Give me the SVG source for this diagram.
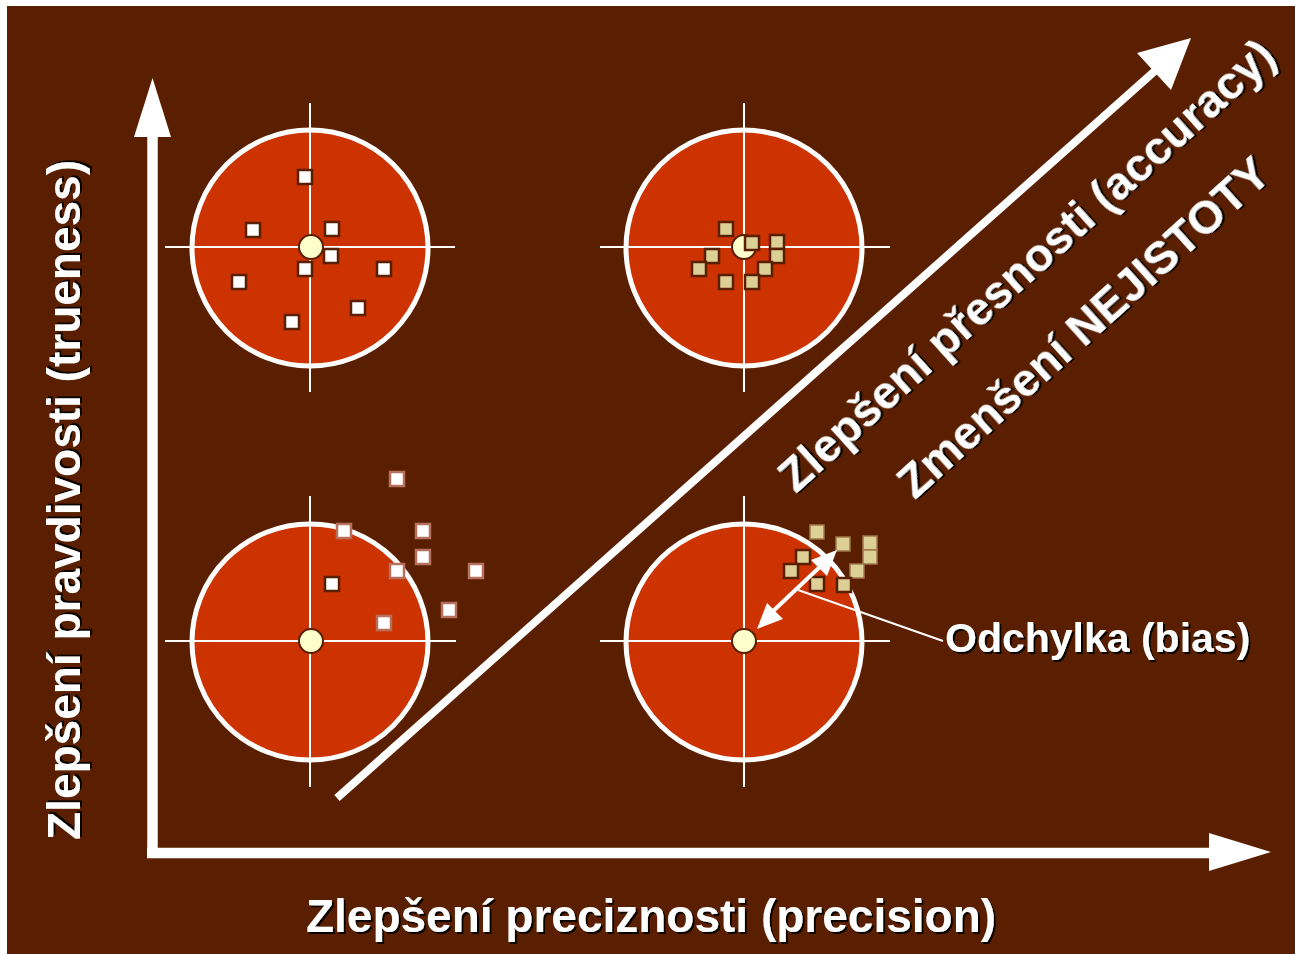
<svg xmlns="http://www.w3.org/2000/svg" width="1295" height="954" viewBox="0 0 1295 954">
  <defs>
    <filter id="sh" x="-5%" y="-5%" width="110%" height="110%">
      <feDropShadow dx="2" dy="2" stdDeviation="0.6" flood-color="#000" flood-opacity="0.9"/>
    </filter>
  </defs>
  <style>
    .ring{fill:#CC3300;stroke:#fff;stroke-width:5}
    .cross{stroke:#fff;stroke-width:2;fill:none}
    .dot{fill:#FFFFCC;stroke:#5A1F00;stroke-width:2}
    .sqw{fill:#fff;stroke:#5A1F00;stroke-width:2.5}
    .sqwl{fill:#fff;stroke:#B8705E;stroke-width:2.5}
    .sqt{fill:#DDD096;stroke:#5A1F00;stroke-width:2.5}
    .sqtl{fill:#DDD096;stroke:#A07A48;stroke-width:1.5}
    .lbl{font-family:"Liberation Sans",Arial,sans-serif;font-weight:bold;fill:#fff;filter:url(#sh)}
    .ax{stroke:#fff;fill:none}
    .head{fill:#fff}
  </style>
  <rect x="0" y="0" width="1295" height="954" fill="#fff"/>
  <rect x="7" y="6" width="1288" height="948" fill="#5A1F00"/>

  <g id="target-tl">
    <circle class="ring" cx="310" cy="248" r="118"/>
    <line class="cross" x1="310" y1="103" x2="310" y2="392"/>
    <line class="cross" x1="165" y1="247" x2="455" y2="247"/>
    <circle class="dot" cx="311" cy="247" r="12"/>
    <g class="sqw">
      <rect x="298" y="170" width="14" height="14"/>
      <rect x="246" y="223" width="14" height="14"/>
      <rect x="325" y="222" width="14" height="14"/>
      <rect x="324" y="249" width="14" height="14"/>
      <rect x="298" y="262" width="14" height="14"/>
      <rect x="232" y="275" width="14" height="14"/>
      <rect x="377" y="262" width="14" height="14"/>
      <rect x="351" y="301" width="14" height="14"/>
      <rect x="285" y="315" width="14" height="14"/>
    </g>
  </g>

  <g id="target-tr">
    <circle class="ring" cx="744" cy="248" r="118"/>
    <line class="cross" x1="744" y1="103" x2="744" y2="392"/>
    <line class="cross" x1="600" y1="247" x2="890" y2="247"/>
    <circle class="dot" cx="744" cy="247" r="12"/>
    <g class="sqt">
      <rect x="719" y="222" width="14" height="14"/>
      <rect x="745" y="236" width="14" height="14"/>
      <rect x="770" y="235" width="14" height="14"/>
      <rect x="770" y="249" width="14" height="14"/>
      <rect x="705" y="249" width="14" height="14"/>
      <rect x="692" y="262" width="14" height="14"/>
      <rect x="758" y="262" width="14" height="14"/>
      <rect x="719" y="275" width="14" height="14"/>
      <rect x="745" y="275" width="14" height="14"/>
    </g>
  </g>

  <g id="target-bl">
    <circle class="ring" cx="310" cy="642" r="118"/>
    <line class="cross" x1="310" y1="496" x2="310" y2="787"/>
    <line class="cross" x1="165" y1="641" x2="456" y2="641"/>
    <circle class="dot" cx="311" cy="641" r="12"/>
    <rect class="sqw" x="325" y="577" width="14" height="14"/>
    <g class="sqwl">
      <rect x="390" y="472" width="14" height="14"/>
      <rect x="337" y="524" width="14" height="14"/>
      <rect x="416" y="524" width="14" height="14"/>
      <rect x="416" y="550" width="14" height="14"/>
      <rect x="390" y="564" width="14" height="14"/>
      <rect x="469" y="564" width="14" height="14"/>
      <rect x="442" y="603" width="14" height="14"/>
      <rect x="377" y="616" width="14" height="14"/>
    </g>
  </g>

  <g id="target-br">
    <circle class="ring" cx="744" cy="642" r="118"/>
    <line class="cross" x1="744" y1="496" x2="744" y2="787"/>
    <line class="cross" x1="600" y1="641" x2="890" y2="641"/>
    <circle class="dot" cx="744" cy="641" r="12"/>
    <g class="sqtl">
      <rect x="810" y="525" width="14" height="14"/>
      <rect x="836" y="537" width="14" height="14"/>
      <rect x="863" y="536" width="14" height="14"/>
      <rect x="863" y="550" width="14" height="14"/>
      <rect x="850" y="564" width="14" height="14"/>
    </g>
    <g class="sqt">
      <rect x="796" y="550" width="14" height="14"/>
      <rect x="784" y="564" width="14" height="14"/>
      <rect x="810" y="577" width="14" height="14"/>
      <rect x="837" y="578" width="14" height="14"/>
    </g>
  </g>

  <g id="connectors">
    <line class="ax" x1="152.5" y1="136" x2="152.5" y2="858" stroke-width="10.5"/>
    <polygon class="head" points="152.5,78 134,137 171,137"/>
    <line class="ax" x1="147" y1="853" x2="1210" y2="853" stroke-width="10.5"/>
    <polygon class="head" points="1271,852 1209,833 1209,871"/>
    <line class="ax" x1="337" y1="798" x2="1156" y2="70" stroke-width="8"/>
    <polygon class="head" points="1191,38 1137,53 1171,90"/>
    <line class="ax" x1="770" y1="614" x2="824" y2="563" stroke-width="4"/>
    <polygon class="head" points="757,629 767,603 783,619"/>
    <polygon class="head" points="837,550 811,560 827,576"/>
    <line class="ax" x1="798" y1="590" x2="943" y2="641" stroke-width="2"/>
  </g>

  <g id="labels">
    <text class="lbl" x="651" y="932" font-size="46" text-anchor="middle">Zlepšení preciznosti (precision)</text>
    <text class="lbl" transform="translate(80,500) rotate(-90)" font-size="46" text-anchor="middle">Zlepšení pravdivosti (trueness)</text>
    <text class="lbl" transform="translate(1037,277) rotate(-42)" font-size="46" text-anchor="middle">Zlepšení přesnosti (accuracy)</text>
    <text class="lbl" transform="translate(1094,339) rotate(-42)" font-size="46" text-anchor="middle">Zmenšení NEJISTOTY</text>
    <text class="lbl" x="945" y="652" font-size="41">Odchylka (bias)</text>
  </g>
</svg>
